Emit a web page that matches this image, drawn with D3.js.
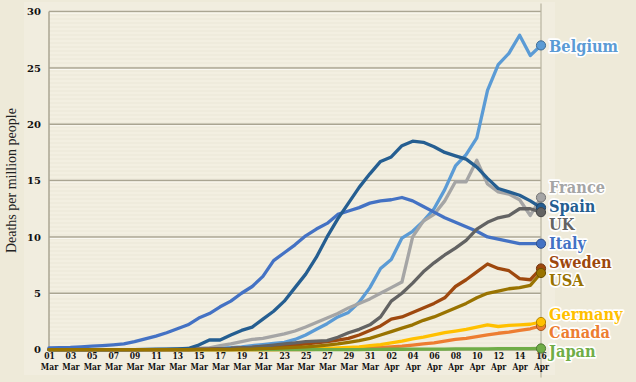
<!DOCTYPE html>
<html><head><meta charset="utf-8">
<script src="https://cdn.jsdelivr.net/npm/d3@7"></script>
<style>
html,body{margin:0;padding:0;background:#eeead9;}
svg{display:block;}
</style></head>
<body>
<svg id="chart" width="636" height="382"></svg>
<script>
const days = ["01 Mar","02 Mar","03 Mar","04 Mar","05 Mar","06 Mar","07 Mar","08 Mar","09 Mar","10 Mar",
"11 Mar","12 Mar","13 Mar","14 Mar","15 Mar","16 Mar","17 Mar","18 Mar","19 Mar","20 Mar",
"21 Mar","22 Mar","23 Mar","24 Mar","25 Mar","26 Mar","27 Mar","28 Mar","29 Mar","30 Mar",
"31 Mar","01 Apr","02 Apr","03 Apr","04 Apr","05 Apr","06 Apr","07 Apr","08 Apr","09 Apr",
"10 Apr","11 Apr","12 Apr","13 Apr","14 Apr","15 Apr","16 Apr"];
const yTicks = [0,5,10,15,20,25,30];
const countries = ["Belgium","Canada","France","Germany","Italy","Japan","Spain","Sweden","UK","USA"];
const belgium = [0,0,0,0,0,0,0,0,0,0,0,0.02,0.03,0.05,0.08,0.1,0.12,0.18,0.25,0.35,0.45,0.55,0.65,0.9,1.3,1.8,2.3,2.9,3.3,4.2,5.5,7.2,8.0,9.9,10.5,11.4,12.5,14.2,16.3,17.3,18.8,23.0,25.3,26.3,27.9,26.1,27.0];
const canada = [0,0,0,0,0,0,0,0,0,0,0,0,0,0,0,0,0,0,0,0,0,0,0,0,0,0.02,0.04,0.06,0.08,0.1,0.15,0.2,0.25,0.3,0.4,0.5,0.6,0.75,0.9,1.0,1.15,1.3,1.45,1.55,1.7,1.85,2.1];
const france = [0,0,0,0,0,0,0,0,0,0,0,0.02,0.04,0.06,0.1,0.15,0.35,0.5,0.7,0.9,1.0,1.2,1.4,1.65,2.0,2.4,2.8,3.2,3.7,4.1,4.5,5.0,5.5,6.0,10.0,11.4,12.0,13.2,14.9,14.9,16.8,14.7,14.0,13.8,13.3,11.9,13.5];
const germany = [0,0,0,0,0,0,0,0,0,0,0,0,0,0,0,0,0,0,0,0,0,0.01,0.02,0.03,0.05,0.08,0.1,0.15,0.2,0.25,0.35,0.45,0.6,0.75,0.95,1.1,1.3,1.5,1.65,1.8,2.0,2.2,2.05,2.15,2.2,2.25,2.45];
const italy = [0.15,0.18,0.2,0.25,0.3,0.35,0.42,0.5,0.7,0.95,1.2,1.5,1.85,2.2,2.8,3.2,3.8,4.3,5.0,5.6,6.5,7.9,8.6,9.3,10.1,10.7,11.2,12.0,12.3,12.6,13.0,13.2,13.3,13.5,13.2,12.7,12.2,11.7,11.3,10.9,10.5,10.0,9.8,9.6,9.4,9.4,9.4];
const japan = [0,0,0,0,0,0,0,0,0,0,0,0,0,0,0,0,0,0,0,0,0,0,0,0,0,0,0,0,0,0,0.02,0.02,0.03,0.03,0.04,0.04,0.05,0.05,0.06,0.06,0.07,0.07,0.08,0.08,0.09,0.09,0.1];
const spain = [0,0,0,0,0,0,0,0,0,0.02,0.03,0.05,0.07,0.1,0.4,0.85,0.85,1.3,1.7,2.0,2.7,3.4,4.3,5.5,6.7,8.2,10.0,11.6,13.0,14.4,15.6,16.7,17.1,18.1,18.5,18.4,18.0,17.5,17.2,16.9,16.2,15.2,14.3,14.0,13.7,13.2,12.6];
const sweden = [0,0,0,0,0,0,0,0,0,0,0,0,0,0,0.02,0.05,0.08,0.1,0.15,0.2,0.25,0.3,0.35,0.4,0.5,0.6,0.7,0.85,1.0,1.3,1.7,2.1,2.7,2.9,3.3,3.7,4.1,4.6,5.6,6.2,6.9,7.6,7.2,7.0,6.3,6.2,7.2];
const uk = [0,0,0,0,0,0,0,0,0,0,0,0,0,0,0.03,0.05,0.08,0.1,0.15,0.2,0.3,0.4,0.5,0.6,0.7,0.75,0.8,1.1,1.5,1.8,2.2,2.9,4.3,5.0,5.9,6.9,7.7,8.4,9.0,9.7,10.7,11.3,11.7,11.9,12.5,12.5,12.2];
const usa = [0,0,0,0,0,0,0,0,0,0,0,0,0,0,0,0,0,0,0.03,0.05,0.08,0.1,0.15,0.2,0.25,0.3,0.4,0.5,0.65,0.8,1.0,1.3,1.6,1.9,2.2,2.6,2.9,3.3,3.7,4.1,4.6,5.0,5.2,5.4,5.5,5.7,6.8];
const colors = ["#5b9bd5","#ed7d31","#a5a5a5","#ffc000","#4472c4","#70ad47","#255e91","#9e480e","#636363","#997300"];
const seriesValues = [belgium,canada,france,germany,italy,japan,spain,sweden,uk,usa];

const svg = d3.select("#chart");
const W = 636, H = 382;
const m = {left:49, right:95, top:11.6, bottom:32.4};

svg.append("rect").attr("width",W).attr("height",H).attr("fill","#eeead9");
svg.append("rect").attr("x",24).attr("y",2).attr("width",531).attr("height",373)
  .attr("fill","#f1eddf");

const defs = svg.append("defs");
const pat = defs.append("pattern").attr("id","stripes").attr("patternUnits","userSpaceOnUse")
  .attr("width",4).attr("height",4);
pat.append("rect").attr("width",4).attr("height",4).attr("fill","#f3efe1");
pat.append("rect").attr("y",2).attr("width",4).attr("height",2).attr("fill","#efebdc");

const x = d3.scalePoint().domain(days).range([m.left, W - m.right]);
const y = d3.scaleLinear().domain([0,30]).range([H - m.bottom, m.top]);

svg.append("rect").attr("x",m.left).attr("y",m.top).attr("width",x.range()[1]-m.left)
  .attr("height",y(0)-m.top).attr("fill","url(#stripes)");

// gridlines
const grid = svg.append("g");
grid.selectAll("line.g").data(yTicks.filter(t=>t>0)).join("line")
  .attr("x1",m.left).attr("x2",x.range()[1]).attr("y1",d=>y(d)).attr("y2",d=>y(d))
  .attr("stroke","#aaa592").attr("stroke-width",1.5);
grid.selectAll("line.h").data(yTicks.filter(t=>t>0)).join("line")
  .attr("x1",m.left).attr("x2",x.range()[1]).attr("y1",d=>y(d)+1.5).attr("y2",d=>y(d)+1.5)
  .attr("stroke","#fbf9f2").attr("stroke-width",1);
// axes lines
svg.append("line").attr("x1",m.left).attr("x2",m.left).attr("y1",m.top).attr("y2",y(0))
  .attr("stroke","#aaa592").attr("stroke-width",1.5);
svg.append("line").attr("x1",x.range()[1]).attr("x2",x.range()[1]).attr("y1",m.top-8).attr("y2",y(0)+28)
  .attr("stroke","#b8b29f").attr("stroke-width",1.2);
svg.append("line").attr("x1",m.left).attr("x2",x.range()[1]).attr("y1",y(0)+0.5).attr("y2",y(0)+0.5)
  .attr("stroke","#aaa592").attr("stroke-width",1.5);

// y axis labels
const yAxis = d3.axisLeft(y).tickValues(yTicks).tickSize(0).tickPadding(8);
const gy = svg.append("g").attr("transform",`translate(${m.left},0)`).call(yAxis);
gy.select(".domain").remove();
gy.selectAll("text").attr("font-family","'DejaVu Serif', serif").attr("font-weight","bold")
  .attr("font-size",10).attr("fill","#111");

// x axis labels
const xAxis = d3.axisBottom(x).tickValues(days.filter((d,i)=>i%2===0)).tickSize(0).tickFormat("");
const gx = svg.append("g").attr("transform",`translate(0,${y(0)})`).call(xAxis);
gx.select(".domain").remove();
gx.selectAll(".tick").each(function(d){
  const parts = d.split(" ");
  const t = d3.select(this).append("text").attr("fill","#111").attr("text-anchor","middle")
    .attr("transform","scale(0.8,1)")
    .attr("font-family","'DejaVu Serif', serif").attr("font-weight","bold").attr("font-size",9.5);
  t.append("tspan").attr("x",0).attr("y",9.5).text(parts[0]);
  t.append("tspan").attr("x",0).attr("y",20.5).text(parts[1]);
});

// y title
svg.append("text").attr("transform",`translate(16,${(m.top+y(0))/2}) rotate(-90)`)
  .attr("text-anchor","middle").attr("font-family","'Liberation Serif', serif")
  .attr("font-size",14).attr("fill","#222").text("Deaths per million people");

// lines
const line = d3.line().x((v,i)=>x(days[i])).y(v=>y(v));
const lines = svg.append("g");
countries.forEach((c,k)=>{
  lines.append("path").datum(seriesValues[k]).attr("d",line).attr("fill","none")
    .attr("stroke",colors[k]).attr("stroke-width",3.3).attr("stroke-linejoin","round").attr("stroke-linecap","round");
});
// end dots
const last = days.length-1;
countries.forEach((c,k)=>{
  svg.append("circle").attr("cx",x(days[last])).attr("cy",y(seriesValues[k][last])).attr("r",4.6)
    .attr("fill",colors[k]).attr("stroke",d3.color(colors[k]).darker(1)).attr("stroke-width",1);
});

// labels with collision avoidance
const gap = 18.5;
let labs = countries.map((c,k)=>({name:c,color:colors[k],y:y(seriesValues[k][last])}));
labs.sort((a,b)=>a.y-b.y);
for(let it=0; it<200; it++){
  let moved=false;
  for(let i=1;i<labs.length;i++){
    const d = labs[i].y - labs[i-1].y;
    if(d < gap-0.01){ const s=(gap-d)/2; labs[i].y+=s; labs[i-1].y-=s; moved=true; }
  }
  if(!moved) break;
}
const lg = svg.append("g");
labs.forEach(l=>{
  lg.append("g").attr("transform",`translate(${x(days[last])+8},${l.y}) scale(0.86,1)`)
    .append("text").attr("dy","0.36em")
    .attr("font-family","'DejaVu Serif', serif").attr("font-weight","bold").attr("font-size",17)
    .attr("fill",l.color).attr("stroke","#ffffff").attr("stroke-width",3.5).attr("stroke-linejoin","round")
    .attr("paint-order","stroke").text(l.name);
});
</script>
</body></html>
